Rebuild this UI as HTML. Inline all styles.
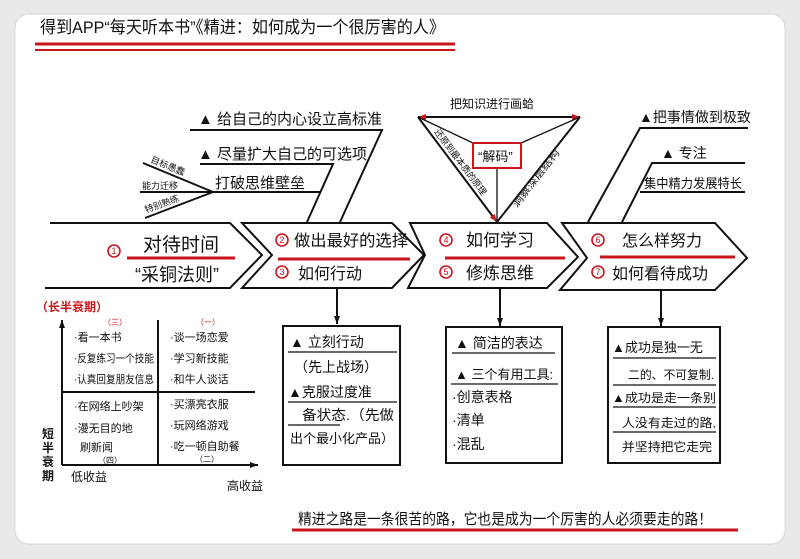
<!DOCTYPE html>
<html><head><meta charset="utf-8"><style>
html,body{margin:0;padding:0;background:#e9e9e9;}
svg{display:block;}
text{font-family:"Liberation Sans","Noto Sans CJK SC",sans-serif;fill:#111;}
</style></head><body>
<svg width="800" height="559" viewBox="0 0 800 559" xmlns="http://www.w3.org/2000/svg">
<defs>
<marker id="ab" markerUnits="userSpaceOnUse" markerWidth="9" markerHeight="9" refX="8" refY="4" orient="auto"><path d="M0,1 L8,4 L0,7 z" fill="#111"/></marker>
<marker id="ar" markerUnits="userSpaceOnUse" markerWidth="9" markerHeight="9" refX="8" refY="4" orient="auto"><path d="M0,1 L8,4 L0,7 z" fill="#c8161d"/></marker>
</defs>
<rect x="15" y="14" width="770" height="530" rx="14" fill="#fff" stroke="#d8d8d8"/>
<text x="40" y="33" font-size="17" textLength="405" lengthAdjust="spacingAndGlyphs">得到APP“每天听本书”《精进：如何成为一个很厉害的人》</text>
<line x1="35" y1="44" x2="455" y2="44" stroke="#c8161d" stroke-width="3"/>
<line x1="35" y1="50" x2="455" y2="50" stroke="#c8161d" stroke-width="2"/>

<g fill="none" stroke="#111" stroke-width="2">
<path d="M50,223 L230,223 L262,255 L230,288 L45,288"/>
<path d="M242,223 L392,223 L424,255 L392,288 L242,288 L272,255 Z"/>
<path d="M410,223 L547,223 L578,257 L547,288 L408,288 L425,255 Z"/>
<path d="M562,223 L715,223 L747,258 L715,290 L560,290 L587,258 Z"/>
<path d="M190,130 L382,130 L340,222"/>
<path d="M200,164 L333,164 L307,222"/>
<path d="M213,192 L320,192"/>
<line x1="143" y1="163" x2="213" y2="192"/>
<line x1="140" y1="192" x2="213" y2="192"/>
<line x1="145" y1="218" x2="213" y2="192"/>
<path d="M748,128 L640,128 L588,222"/>
<path d="M745,163 L652,163 L622,222"/>
<line x1="640" y1="192" x2="745" y2="192"/>
<line x1="497" y1="117" x2="418" y2="117" marker-end="url(#ar)"/>
<line x1="497" y1="117" x2="580" y2="117" marker-end="url(#ar)"/>
<line x1="418" y1="117" x2="497" y2="222" marker-end="url(#ar)"/>
<line x1="580" y1="117" x2="497" y2="222"/>
<line x1="473" y1="143" x2="418" y2="117" stroke-width="1.3"/>
<line x1="521" y1="143" x2="580" y2="117" stroke-width="1.3"/>
<line x1="497" y1="168" x2="497" y2="220" stroke-width="1.3"/>
<line x1="337" y1="288" x2="337" y2="324" marker-end="url(#ab)"/>
<line x1="500" y1="288" x2="500" y2="326" marker-end="url(#ab)"/>
<line x1="661" y1="290" x2="661" y2="326" marker-end="url(#ab)"/>
<rect x="283" y="326" width="117" height="139"/>
<rect x="446" y="327" width="116" height="136"/>
<rect x="608" y="327" width="112" height="136"/>
<line x1="62" y1="465" x2="62" y2="320" marker-end="url(#ab)"/>
<line x1="62" y1="465" x2="258" y2="465" marker-end="url(#ab)"/>
<line x1="158" y1="320" x2="158" y2="465"/>
<line x1="62" y1="392" x2="255" y2="392"/>
</g>
<rect x="473" y="143" width="48" height="25" fill="#fff" stroke="#c8161d" stroke-width="2"/>
<g stroke="#111" stroke-width="1.3">
<line x1="288" y1="352" x2="397" y2="352"/>
<line x1="288" y1="402" x2="397" y2="402"/>
<line x1="288" y1="425" x2="340" y2="425"/>
<line x1="452" y1="353" x2="555" y2="353"/>
<line x1="451" y1="384" x2="558" y2="384"/>
<line x1="613" y1="358" x2="716" y2="358"/>
<line x1="613" y1="385" x2="716" y2="385"/>
<line x1="613" y1="407" x2="716" y2="407"/>
<line x1="613" y1="432" x2="716" y2="432"/>
</g>
<g stroke="#c8161d" stroke-width="3">
<line x1="127" y1="258" x2="235" y2="258"/>
<line x1="278" y1="259" x2="410" y2="259"/>
<line x1="445" y1="258" x2="565" y2="258"/>
<line x1="600" y1="257" x2="735" y2="257"/>
<line x1="292" y1="530" x2="738" y2="530"/>
</g>
<g fill="none" stroke="#c8161d" stroke-width="1.6">
<circle cx="114" cy="251" r="6"/><circle cx="282" cy="240" r="6"/><circle cx="282" cy="272" r="6"/>
<circle cx="446" cy="240" r="6"/><circle cx="446" cy="272" r="6"/><circle cx="598" cy="240" r="6"/><circle cx="598" cy="272" r="6"/>
</g>
<g font-size="9" text-anchor="middle">
<text x="114" y="254" style="fill:#c8161d">1</text><text x="282" y="243" style="fill:#c8161d">2</text><text x="282" y="275" style="fill:#c8161d">3</text>
<text x="446" y="243" style="fill:#c8161d">4</text><text x="446" y="275" style="fill:#c8161d">5</text><text x="598" y="243" style="fill:#c8161d">6</text><text x="598" y="275" style="fill:#c8161d">7</text>
</g>
<text x="143" y="251" font-size="19">对待时间</text>
<text x="135" y="281" font-size="18">“采铜法则”</text>
<text x="294" y="246" font-size="16" textLength="114" lengthAdjust="spacingAndGlyphs">做出最好的选择</text>
<text x="298" y="279" font-size="16">如何行动</text>
<text x="466" y="246" font-size="17">如何学习</text>
<text x="466" y="279" font-size="17">修炼思维</text>
<text x="622" y="246" font-size="16">怎么样努力</text>
<text x="612" y="279" font-size="16">如何看待成功</text>
<text x="198" y="124" font-size="15">▲ 给自己的内心设立高标准</text>
<text x="198" y="159" font-size="15">▲ 尽量扩大自己的可选项</text>
<text x="215" y="188" font-size="15">打破思维壁垒</text>
<text x="150" y="162" font-size="9" transform="rotate(22 150 162)">目标愚蠢</text>
<text x="142" y="189" font-size="9">能力迁移</text>
<text x="146" y="213" font-size="9" transform="rotate(-20 146 213)">特别熟练</text>
<text x="639" y="122" font-size="14">▲把事情做到极致</text>
<text x="661" y="158" font-size="14">▲ 专注</text>
<text x="644" y="188" font-size="13" textLength="98" lengthAdjust="spacingAndGlyphs">集中精力发展特长</text>
<text x="450" y="108" font-size="12">把知识进行画蛤</text>
<text x="478" y="161" font-size="13">“解码”</text>
<text x="434" y="132" font-size="9" transform="rotate(53 434 132)" textLength="80" lengthAdjust="spacingAndGlyphs">还原到最本质的原理</text>
<text x="517" y="208" font-size="9" transform="rotate(-52 517 208)" textLength="70" lengthAdjust="spacingAndGlyphs">洞察深层结构</text>
<text x="290" y="347" font-size="14">▲ 立刻行动</text>
<text x="294" y="372" font-size="14">（先上战场）</text>
<text x="288" y="397" font-size="14">▲克服过度准</text>
<text x="302" y="420" font-size="14" textLength="92" lengthAdjust="spacingAndGlyphs">备状态.（先做</text>
<text x="290" y="443" font-size="13" textLength="104" lengthAdjust="spacingAndGlyphs">出个最小化产品）</text>
<text x="455" y="348" font-size="14">▲ 简洁的表达</text>
<text x="455" y="379" font-size="13">▲ 三个有用工具:</text>
<text x="452" y="402" font-size="14">·创意表格</text>
<text x="452" y="425" font-size="14">·清单</text>
<text x="452" y="449" font-size="14">·混乱</text>
<text x="612" y="352" font-size="13">▲成功是独一无</text>
<text x="628" y="379" font-size="12" textLength="86" lengthAdjust="spacingAndGlyphs">二的、不可复制.</text>
<text x="612" y="402" font-size="12" textLength="104" lengthAdjust="spacingAndGlyphs">▲成功是走一条别</text>
<text x="622" y="427" font-size="12" textLength="94" lengthAdjust="spacingAndGlyphs">人没有走过的路,</text>
<text x="622" y="451" font-size="12" textLength="90" lengthAdjust="spacingAndGlyphs">并坚持把它走完</text>
<text x="36" y="311" font-size="12" style="fill:#c8161d;font-weight:bold">（长半衰期）</text>
<text x="103" y="325" font-size="8" style="fill:#c8161d">（三）</text>
<text x="196" y="325" font-size="8" style="fill:#c8161d">（一）</text>
<text x="74" y="341" font-size="11">·看一本书</text>
<text x="74" y="362" font-size="11" textLength="80" lengthAdjust="spacingAndGlyphs">·反复练习一个技能</text>
<text x="74" y="383" font-size="11" textLength="80" lengthAdjust="spacingAndGlyphs">·认真回复朋友信息</text>
<text x="170" y="341" font-size="11">·谈一场恋爱</text>
<text x="170" y="362" font-size="11">·学习新技能</text>
<text x="170" y="383" font-size="11">·和牛人谈话</text>
<text x="74" y="410" font-size="11">·在网络上吵架</text>
<text x="74" y="432" font-size="11">·漫无目的地</text>
<text x="80" y="451" font-size="11">刷新闻</text>
<text x="98" y="463" font-size="8">（四）</text>
<text x="170" y="408" font-size="11">·买漂亮衣服</text>
<text x="170" y="429" font-size="11">·玩网络游戏</text>
<text x="170" y="450" font-size="11">·吃一顿自助餐</text>
<text x="195" y="462" font-size="8">（二）</text>
<g font-size="12" font-weight="bold">
<text x="42" y="438">短</text><text x="42" y="452">半</text><text x="42" y="466">衰</text><text x="42" y="480">期</text>
</g>
<text x="71" y="481" font-size="12">低收益</text>
<text x="227" y="490" font-size="12">高收益</text>
<text x="298" y="524" font-size="15" textLength="414" lengthAdjust="spacingAndGlyphs">精进之路是一条很苦的路，它也是成为一个厉害的人必须要走的路！</text>
</svg>
</body></html>
